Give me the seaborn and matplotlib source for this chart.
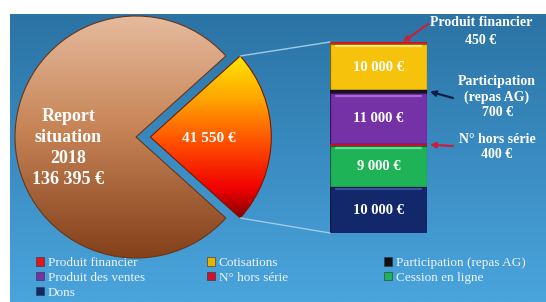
import numpy as np
import matplotlib
matplotlib.use("Agg")
import matplotlib.pyplot as plt
import seaborn as sns
from matplotlib.patches import Patch, ConnectionPatch
from matplotlib.colors import LinearSegmentedColormap

# ---------------- data ----------------
pie_labels = ["41 550 €", "Report\nsituation\n2018\n136 395 €"]
pie_values = [41550, 136395]

bar_categories = ["Produit financier", "Cotisations", "Participation (repas AG)",
                  "Produit des ventes", "N° hors série", "Cession en ligne", "Dons"]
bar_values = [450, 10000, 700, 11000, 400, 9000, 10000]
bar_labels = ["", "10 000 €", "", "11 000 €", "", "9 000 €", "10 000 €"]
bar_colors = ["#e3141c", "#f6c20c", "#151515", "#7432a6", "#d3102a", "#1fb357", "#13286a"]
bar_edges = ["#8a0a10", "#8a6a00", "#000000", "#3d1060", "#7a0815", "#0c6a30", "#081540"]
bar_highlights = ["#e3141c", "#ffe680", "#151515", "#b070d8", "#d3102a", "#70e0a0", "#3a5aa0"]

callout_texts = ["Produit financier\n450 €", "Participation\n(repas AG)\n700 €", "N° hors série\n400 €"]
callout_index = [0, 2, 4]
callout_arrow_colors = ["#c8203a", "#0d1f45", "#c8203a"]

legend_columns = [[0, 3, 6], [1, 4], [2, 5]]
legend_colors = ["#e3141c", "#e6b400", "#111111", "#7432a6", "#d3102a", "#1fb357", "#13286a"]

# ---------------- layout helpers ----------------
W, H = 546, 302
def box(x0, y0, x1, y1):
    return [x0 / W, 1 - y1 / H, (x1 - x0) / W, (y1 - y0) / H]

sns.set_theme(style="white")
plt.rcParams["font.family"] = ["Liberation Serif", "DejaVu Serif"]

fig = plt.figure(figsize=(W / 100, H / 100), dpi=100, facecolor="white")

# background gradient
ax_bg = fig.add_axes(box(10, 14, 546, 302))
bg_cmap = LinearSegmentedColormap.from_list("bg", ["#2b73a4", "#3a8cc2", "#4aa5dc"])
ax_bg.imshow(np.linspace(0, 1, 256).reshape(-1, 1), cmap=bg_cmap, aspect="auto",
             extent=(0, 1, 0, 1), origin="upper")
ax_bg.set_axis_off()

# ---------------- pie ----------------
R = 121.0
cx, cy = 136, 137
ax_pie = fig.add_axes(box(0, 0, 300, 302))
ax_pie.patch.set_alpha(0)
total = sum(pie_values)
start = -360 * pie_values[0] / total / 2
wedges, _ = ax_pie.pie(pie_values, startangle=start, explode=[0.118, 0], radius=1,
                       wedgeprops=dict(linewidth=0.8))
ax_pie.set_aspect("auto")

cmaps = [
    LinearSegmentedColormap.from_list("hot", [(0, "#fff200"), (0.3, "#ffa000"),
                                              (0.55, "#ff4a00"), (0.8, "#f00000"), (1, "#700000")]),
    LinearSegmentedColormap.from_list("brown", [(0, "#e6bb9f"), (0.45, "#c88658"),
                                                (1, "#83401a")]),
]
edge_cols = ["#7a1a00", "#6b3515"]
for w, cm, ec in zip(wedges, cmaps, edge_cols):
    wcx, wcy = w.center
    if w.theta2 - w.theta1 < 180:
        ext = (wcx, wcx + 1.0, wcy - 0.72, wcy + 0.72)
    else:
        ext = (-1.0, 1.0, -1.0, 1.0)
    im = ax_pie.imshow(np.linspace(0, 1, 256).reshape(-1, 1), cmap=cm, aspect="auto",
                       extent=ext, origin="upper", zorder=2)
    im.set_clip_path(w)
    w.set_facecolor("none")
    w.set_edgecolor(ec)
    w.set_zorder(3)

ax_pie.set_xlim(-cx / R, (300 - cx) / R)
ax_pie.set_ylim((cy - 302) / R, cy / R)
ax_pie.set_axis_off()

# pie texts
small, big = wedges
ax_pie.text(small.center[0] + 0.48, small.center[1] - 0.015, pie_labels[0], ha="center", va="center",
            color="white", fontsize=11, fontweight="bold", zorder=5)
ax_pie.text(-0.56, -0.09, pie_labels[1], ha="center", va="center", color="white",
            fontsize=13, fontweight="bold", linespacing=1.3, zorder=5)

# ---------------- stacked bar ----------------
ax_bar = fig.add_axes(box(330, 42, 427, 233))
ax_bar.patch.set_alpha(0)
tops = np.cumsum(bar_values[::-1])[::-1]
bottoms = tops - np.array(bar_values)
for top, col, ec, v in zip(tops, bar_colors, bar_edges, bar_values):
    sns.barplot(x=["s"], y=[top], color=col, width=1, saturation=1, ax=ax_bar,
                edgecolor=ec, linewidth=0.9 if v > 1000 else 0.3)
ax_bar.set_xlim(-0.5, 0.5)
ax_bar.set_ylim(0, tops[0])
ax_bar.set_axis_off()
for lab, b, v, t, hc in zip(bar_labels, bottoms, bar_values, tops, bar_highlights):
    if lab:
        ax_bar.text(0, b + v / 2, lab, ha="center", va="center", color="white",
                    fontsize=10.5, fontweight="bold")
        # bevel highlight near the top of the segment
        ax_bar.plot([-0.44, 0.44], [t - 500, t - 500], color=hc, lw=1.6,
                    solid_capstyle="round", alpha=0.9)

# connector lines from slice tips to bar corners
th1, th2 = np.radians(small.theta1), np.radians(small.theta2)
tip_top = (small.center[0] + np.cos(th2), small.center[1] + np.sin(th2))
tip_bot = (small.center[0] + np.cos(th1), small.center[1] + np.sin(th1))
for tip, by in [(tip_top, tops[0]), (tip_bot, 0)]:
    con = ConnectionPatch(xyA=tip, coordsA=ax_pie.transData, xyB=(-0.5, by),
                          coordsB=ax_bar.transData, color="#9fcbe6", lw=1.0, zorder=1)
    fig.add_artist(con)

# callouts
text_pos = [(481, 32), (497, 97), (497, 147)]
spacings = [1.5, 1.2, 1.15]
arrow_tail = [(428, 24), (453, 98), (453, 146)]
for txt, idx, col, (tx, ty), ls, (ax_, ay_) in zip(callout_texts, callout_index,
                                                     callout_arrow_colors, text_pos, spacings, arrow_tail):
    fig.text(tx / W, 1 - ty / H, txt, ha="center", va="center", color="white",
             fontsize=10, fontweight="bold", linespacing=ls)
    if idx == 0:
        xy = (0.25, tops[0])
    else:
        xy = (0.53, bottoms[idx] + bar_values[idx] / 2)
    ax_bar.annotate("", xy=xy, xycoords="data", xytext=(ax_, H - ay_), textcoords="figure pixels",
                    arrowprops=dict(arrowstyle="-|>", color=col, lw=1.6, mutation_scale=8,
                                    shrinkA=0, shrinkB=0), annotation_clip=False)

# ---------------- legend ----------------
leg_x = [36, 207, 384]
for col_items, x in zip(legend_columns, leg_x):
    handles = [Patch(facecolor=legend_colors[i], edgecolor="#333333", linewidth=0.4) for i in col_items]
    labels = [bar_categories[i] for i in col_items]
    fig.legend(handles, labels, loc="upper left", bbox_to_anchor=(x / W, 1 - 257 / H),
               bbox_transform=fig.transFigure, frameon=False,
               prop=dict(family="Liberation Serif", size=9.5), labelcolor="#eef4fa",
               handlelength=0.6, handleheight=0.6, handletextpad=0.3, labelspacing=0.22,
               borderaxespad=0, borderpad=0)

fig.savefig("out.png", dpi=100, facecolor="white")
